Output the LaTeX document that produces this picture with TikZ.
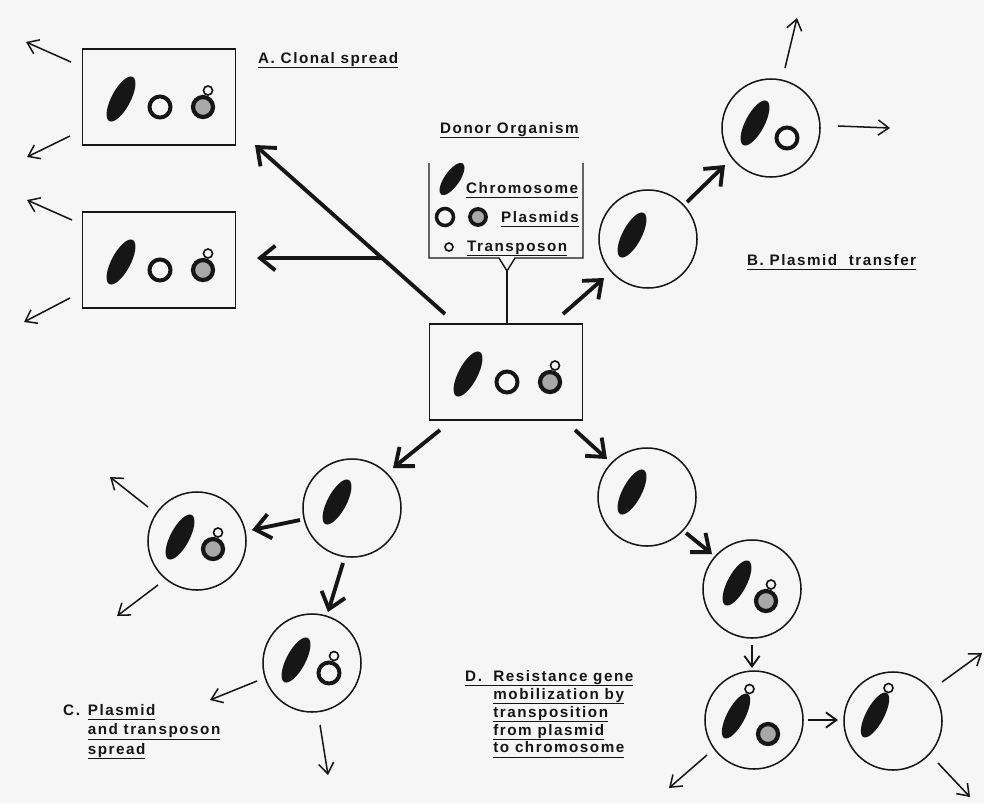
\documentclass[tikz,border=0pt]{standalone}
\usepackage{fontspec}
\newfontfamily\labfont{Liberation Sans}[LetterSpace=10]
\usetikzlibrary{arrows.meta,calc}

\definecolor{paper}{RGB}{246,246,246}
\definecolor{ink}{RGB}{22,22,22}
\definecolor{plasgray}{RGB}{168,168,168}

\newsavebox\ulbox
\newcommand{\ulin}[1]{\sbox\ulbox{#1}\rlap{\rule[-4.6pt]{\wd\ulbox}{1.1pt}}\usebox\ulbox}

\tikzset{
    cell/.style={circle, draw=ink, line width=1.3pt, minimum size=2.94cm, inner sep=0pt},
    colony/.style={rectangle, draw=ink, line width=1.3pt, minimum width=4.6cm, minimum height=2.88cm, inner sep=0pt},
    lab/.style={font=\labfont\bfseries\fontsize{13}{16}\selectfont, text=ink, inner sep=0pt, anchor=base west},
    bigarr/.style={draw=ink, line width=3.3pt, -{Straight Barb[length=13pt,width=21pt]}},
    midarr/.style={draw=ink, line width=1.6pt, -{Straight Barb[length=9pt,width=13pt]}},
    thinarr/.style={draw=ink, line width=1.3pt, -{Straight Barb[length=9pt,width=13pt]}},
    tnsp/.pic={\draw[ink, line width=1.4pt, fill=paper] (0,0) circle[radius=4.5];},
    chromo/.pic={\fill[ink] (0,0) ellipse[x radius=25, y radius=9.5, rotate=62];},
    chromotn/.pic={\fill[ink] (0,0) ellipse[x radius=25, y radius=9, rotate=62];
        \pic at (13.5,-27) {tnsp};},
    openpl/.pic={\draw[ink, line width=3.4pt, fill=paper] (0,0) circle[radius=10.5];},
    openpltn/.pic={\pic at (0,0) {openpl}; \pic at (5,-17) {tnsp};},
    graypl/.pic={\draw[ink, line width=3.6pt, fill=plasgray] (0,0) circle[radius=10];},
    graypltn/.pic={\pic at (0,0) {graypl}; \pic at (5,-16.5) {tnsp};},
    fullset/.pic={\pic at (-38,2) {chromo}; \pic at (1,10) {openpl}; \pic at (44,10) {graypltn};}
}

\begin{document}
\begin{tikzpicture}[x=0.03cm, y=-0.03cm]
    \fill[paper] (0,0) rectangle (984,803);
    \useasboundingbox (0,0) rectangle (984,803);

    % colonies and cells
    \node[colony] (clone1) at (159,97) {};
    \node[colony] (clone2) at (159,260) {};
    \node[colony] (donor) at (506,372) {};
    \node[cell] (bcell1) at (648,239) {};
    \node[cell] (bcell2) at (771,128) {};
    \node[cell] (ccell1) at (352,508) {};
    \node[cell] (ccell2) at (197,541) {};
    \node[cell] (ccell3) at (312,663) {};
    \node[cell] (dcell1) at (647,497) {};
    \node[cell] (dcell2) at (752,589) {};
    \node[cell] (dcell3) at (754,720) {};
    \node[cell] (dcell4) at (893,721) {};

    \pic at (clone1) {fullset};
    \pic at (clone2) {fullset};
    \pic at (donor) {fullset};
    \pic at ($(bcell1)+(-16,-4)$) {chromo};
    \pic at ($(bcell2)+(-16,-5)$) {chromo};
    \pic at ($(bcell2)+(16,10)$) {openpl};
    \pic at ($(ccell1)+(-15,-6)$) {chromo};
    \pic at ($(ccell2)+(-17,-4)$) {chromo};
    \pic at ($(ccell2)+(16,8)$) {graypltn};
    \pic at ($(ccell3)+(-16,-3)$) {chromo};
    \pic at ($(ccell3)+(17,10)$) {openpltn};
    \pic at ($(dcell1)+(-15,-5)$) {chromo};
    \pic at ($(dcell2)+(-15,-6)$) {chromo};
    \pic at ($(dcell2)+(14,12)$) {graypltn};
    \pic at ($(dcell3)+(-18,-4)$) {chromotn};
    \pic at ($(dcell3)+(14,14)$) {graypl};
    \pic at ($(dcell4)+(-18,-6)$) {chromotn};

    % legend of the donor
    \node[lab] (donorlab) at (440,133) {\ulin{Donor Organism}};
    \draw[ink, line width=1.2pt] (429,163) -- (429,258) -- (499,258) -- (507,271) coordinate (legtip) -- (515,258) -- (583,258) -- (583,163);
    \draw[ink, line width=1.2pt] (legtip) -- (legtip |- donor.north);
    \fill[ink] (452,179) ellipse[x radius=19, y radius=7.5, rotate=55];
    \draw[ink, line width=3pt, fill=paper] (445,217) circle[radius=8.5];
    \draw[ink, line width=3.2pt, fill=plasgray] (478,217) circle[radius=8];
    \draw[ink, line width=1.4pt, fill=paper] (449,247) circle[radius=4];
    \node[lab] (chromolab) at (466,193) {\ulin{Chromosome}};
    \node[lab] (plaslab) at (501,222) {\ulin{Plasmids}};
    \node[lab] (tnlab) at (467,251) {\ulin{Transposon}};

    % A. clonal spread
    \node[lab] (alab) at (258,63) {\ulin{A. Clonal spread}};
    \draw[bigarr] ([shift={(-61,-58)}]donor.center) coordinate (bigstart) -- ([shift={(96,48)}]clone1.center) coordinate (bigend);
    \coordinate (fork) at ($(bigstart)!0.331!(bigend)$);
    \draw[bigarr] (fork) -- ([shift={(98,-2)}]clone2.center);
    \draw[thinarr] ([shift={(-88,-35)}]clone1.center) -- ++(-45,-20);
    \draw[thinarr] ([shift={(-89,39)}]clone1.center) -- ++(-43,21);
    \draw[thinarr] ([shift={(-87,-40)}]clone2.center) -- ++(-45,-20);
    \draw[thinarr] ([shift={(-89,38)}]clone2.center) -- ++(-46,24);

    % B. plasmid transfer
    \node[lab] (blab) at (747,265) {\ulin{B. Plasmid\ \ transfer}};
    \draw[bigarr] ([shift={(57,-58)}]donor.center) -- ([shift={(-44,39)}]bcell1.center);
    \draw[bigarr] ([shift={(39,-37)}]bcell1.center) -- ([shift={(-46,37)}]bcell2.center);
    \draw[thinarr] ([shift={(14,-60)}]bcell2.center) -- ++(12,-50);
    \draw[thinarr] ([shift={(67,-2)}]bcell2.center) -- ++(52,2);

    % C. plasmid and transposon spread
    \node[lab] (clab) at (63,715) {\def\arraystretch{1.04}\begin{tabular}[t]{@{}l@{}l@{}}
        \makebox[21pt][l]{C.} & \ulin{Plasmid}\\
        & \ulin{and transposon}\\
        & \ulin{spread}
    \end{tabular}};
    \draw[bigarr] ([shift={(-66,58)}]donor.center) -- ([shift={(41,-40)}]ccell1.center);
    \draw[bigarr] ([shift={(-52,12)}]ccell1.center) -- ([shift={(55,-11)}]ccell2.center);
    \draw[bigarr] ([shift={(-9,55)}]ccell1.center) -- ([shift={(16,-51)}]ccell3.center);
    \draw[thinarr] ([shift={(-49,-34)}]ccell2.center) -- ++(-38,-30);
    \draw[thinarr] ([shift={(-39,44)}]ccell2.center) -- ++(-41,31);
    \draw[thinarr] ([shift={(-55,18)}]ccell3.center) -- ++(-47,19);
    \draw[thinarr] ([shift={(8,62)}]ccell3.center) -- ++(8,50);

    % D. mobilization by transposition
    \node[lab] (dlab) at (465,681) {\def\arraystretch{0.96}\begin{tabular}[t]{@{}l@{}}
        \ulin{\makebox[24pt][l]{D.}Resistance gene}\\
        \hspace*{24pt}\ulin{mobilization by}\\
        \hspace*{24pt}\ulin{transposition}\\
        \hspace*{24pt}\ulin{from plasmid}\\
        \hspace*{24pt}\ulin{to chromosome}
    \end{tabular}};
    \draw[bigarr] ([shift={(69,58)}]donor.center) -- ([shift={(-40,-38)}]dcell1.center);
    \draw[bigarr] ([shift={(39,36)}]dcell1.center) -- ([shift={(-40,-35)}]dcell2.center);
    \draw[midarr] ([shift={(0,56)}]dcell2.center) -- ([shift={(-2,-52)}]dcell3.center);
    \draw[midarr] ([shift={(54,0)}]dcell3.center) -- ([shift={(-55,-1)}]dcell4.center);
    \draw[thinarr] ([shift={(-47,35)}]dcell3.center) -- ++(-38,33);
    \draw[thinarr] ([shift={(49,-39)}]dcell4.center) -- ++(40,-29);
    \draw[thinarr] ([shift={(45,42)}]dcell4.center) -- ++(32,34);
\end{tikzpicture}
\end{document}
